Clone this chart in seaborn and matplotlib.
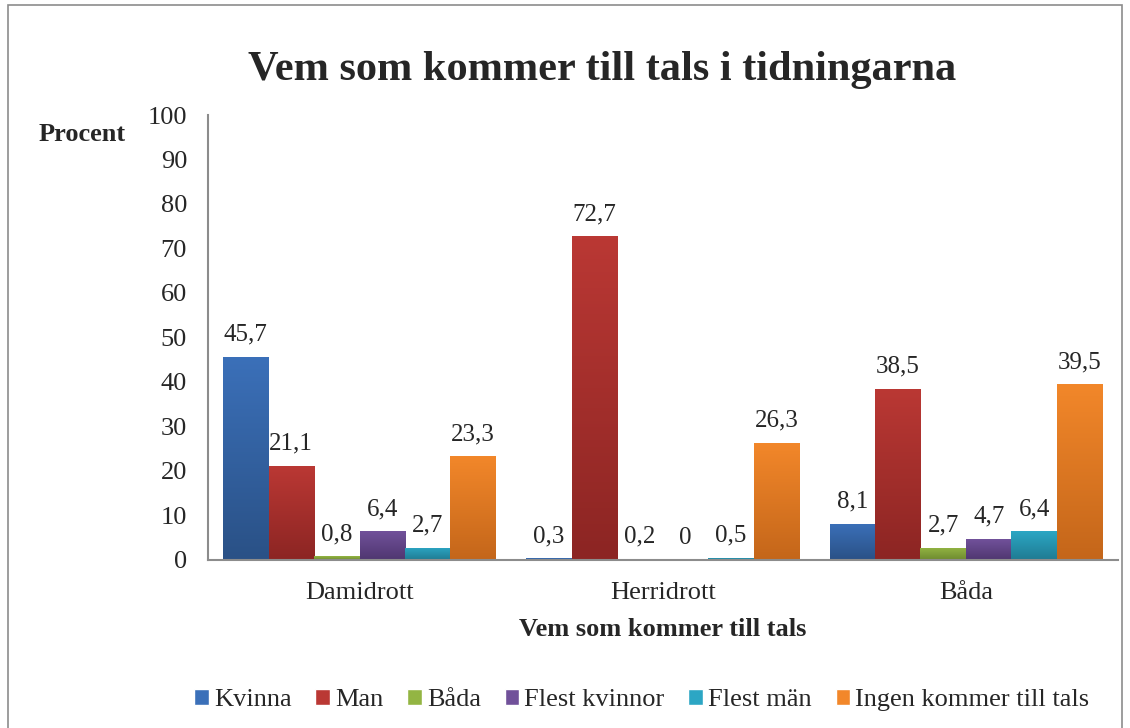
import numpy as np
import pandas as pd
import matplotlib
matplotlib.use("Agg")
import matplotlib.pyplot as plt
from matplotlib.colors import LinearSegmentedColormap
from matplotlib.patches import Rectangle
import seaborn as sns

# data
groups = ["Damidrott", "Herridrott", "Båda"]
series = ["Kvinna", "Man", "Båda", "Flest kvinnor", "Flest män", "Ingen kommer till tals"]
kvinna = [45.7, 0.3, 8.1]
man = [21.1, 72.7, 38.5]
bada = [0.8, 0.2, 2.7]
flest_kvinnor = [6.4, 0.0, 4.7]
flest_man = [2.7, 0.5, 6.4]
ingen = [23.3, 26.3, 39.5]

# top / bottom colours of the gradient bars
top_colors = ["#3B70B9", "#BA3834", "#93B543", "#71519A", "#2CA6C4", "#F2872A"]
bottom_colors = ["#2A5186", "#8C2523", "#6E8A2F", "#4F3670", "#1F7B92", "#C4661A"]

values = [kvinna, man, bada, flest_kvinnor, flest_man, ingen]
rows = []
for s, vals in zip(series, values):
    for g, v in zip(groups, vals):
        rows.append({"grupp": g, "serie": s, "procent": v})
df = pd.DataFrame(rows)

sns.set_style("white")
plt.rcParams["font.family"] = ["Liberation Serif", "DejaVu Serif"]

fig = plt.figure(figsize=(11.3, 7.28), dpi=100)
ax = fig.add_axes([0.184, 0.231, 0.805, 0.611])

sns.barplot(data=df, x="grupp", y="procent", hue="serie", order=groups,
            hue_order=series, palette=top_colors, width=0.9, saturation=1,
            ax=ax, legend=True)

# gradient fill + value labels
for i, cont in enumerate(ax.containers):
    cmap = LinearSegmentedColormap.from_list("g%d" % i, [bottom_colors[i], top_colors[i]])
    for bar, v in zip(cont, values[i]):
        x0, w, h = bar.get_x(), bar.get_width(), bar.get_height()
        if h > 0:
            grad = np.linspace(0, 1, 100).reshape(-1, 1)
            im = ax.imshow(grad, cmap=cmap, origin="lower", aspect="auto",
                           extent=[x0, x0 + w, 0, h], zorder=bar.get_zorder() + 0.1)
            im.set_clip_path(bar)
        txt = ("%g" % v).replace(".", ",")
        ax.text(x0 + w / 2, h + 2.5, txt, ha="center", va="bottom", fontsize=18)

ax.set_xlim(-0.5, 2.5)
ax.set_ylim(0, 100)
ax.set_yticks(range(0, 101, 10))
ax.tick_params(axis="both", length=0, labelsize=19)
ax.tick_params(axis="y", pad=15)
ax.tick_params(axis="x", pad=16)
for side in ["top", "right"]:
    ax.spines[side].set_visible(False)
for side in ["left", "bottom"]:
    ax.spines[side].set_color("#8c8c8c")
    ax.spines[side].set_linewidth(1.5)

ax.set_xlabel("Vem som kommer till tals", fontsize=19, fontweight="bold", labelpad=10)
ax.set_ylabel("")
fig.text(0.0726, 0.815, "Procent", fontsize=19, fontweight="bold", ha="center", va="center")
fig.text(0.533, 0.904, "Vem som kommer till tals i tidningarna", fontsize=30.5,
         fontweight="bold", ha="center", va="center")

handles, labels = ax.get_legend_handles_labels()
ax.get_legend().remove()
fig.legend(handles, labels, loc="center", bbox_to_anchor=(0.568, 0.038), ncol=6,
           frameon=False, fontsize=19, handlelength=0.55, handleheight=0.55,
           handletextpad=0.2, columnspacing=0.9)

# outer chart border
fig.patches.append(Rectangle((0.007, -0.01), 0.986, 1.003, transform=fig.transFigure,
                             fill=False, edgecolor="#8c8c8c", linewidth=1.2))

fig.savefig("out.png", dpi=100)
